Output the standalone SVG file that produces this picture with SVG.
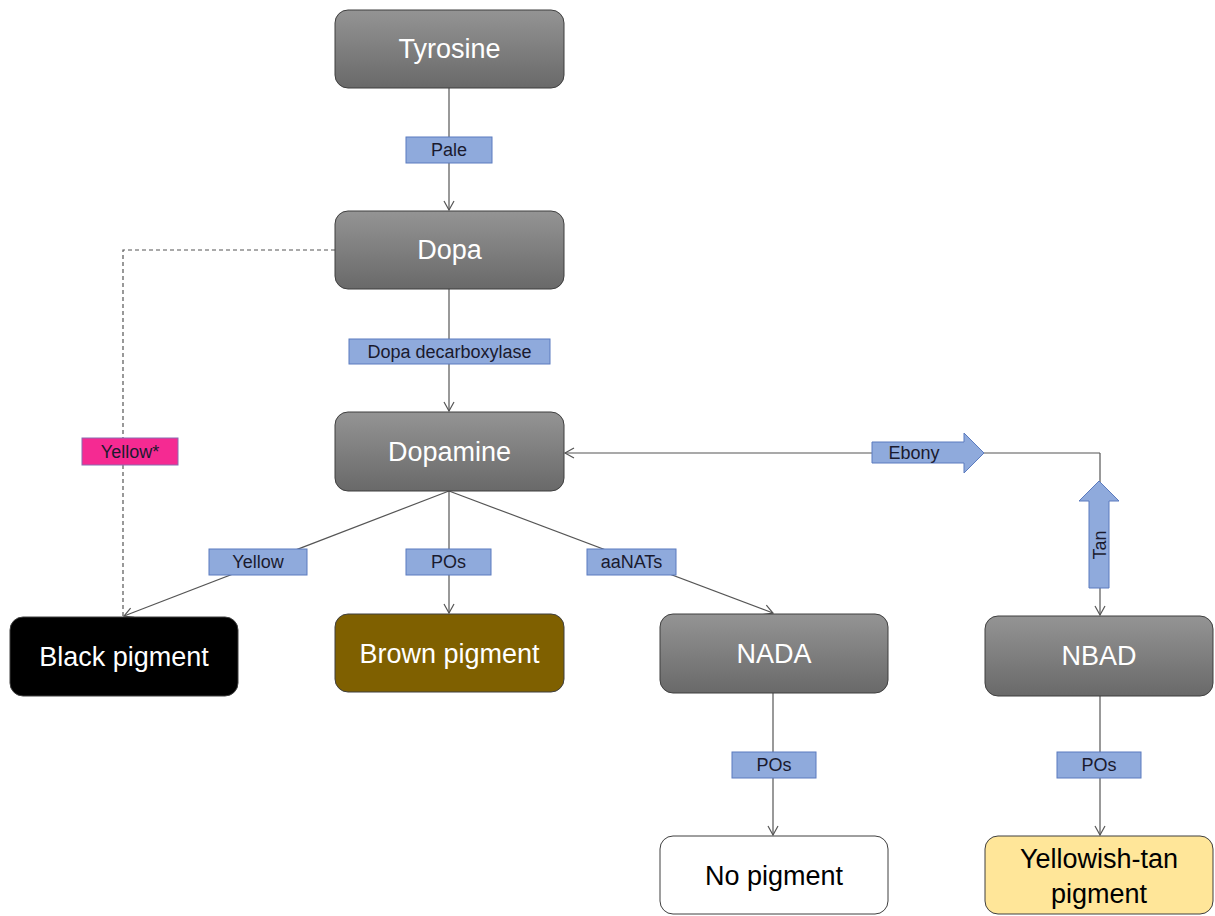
<svg xmlns="http://www.w3.org/2000/svg" width="1215" height="916" viewBox="0 0 1215 916">
<style>
.node{stroke:#3f3f3f;stroke-width:1}
.gray{fill:url(#g)}
.nt{font-family:"Liberation Sans",Arial,sans-serif;font-size:27px;text-anchor:middle;dominant-baseline:central}
.lbl{fill:#8faadc;stroke:#5b7bbf;stroke-width:1}
.lt{font-family:"Liberation Sans",Arial,sans-serif;font-size:18px;fill:#1a1a2e;text-anchor:middle;dominant-baseline:central}
.ln{stroke:#555;stroke-width:1.2;fill:none}
</style>
<defs>
<linearGradient id="g" x1="0" y1="0" x2="0" y2="1">
<stop offset="0" stop-color="#949494"/>
<stop offset="1" stop-color="#696969"/>
</linearGradient>
<marker id="a" markerWidth="12" markerHeight="12" refX="10" refY="6" orient="auto" markerUnits="userSpaceOnUse">
<path d="M1,1 L10,6 L1,11" fill="none" stroke="#555" stroke-width="1.2"/>
</marker>
</defs>
<rect width="1215" height="916" fill="#fff"/>
<g id="connectors">
<line class="ln" x1="449" y1="88" x2="449" y2="210" marker-end="url(#a)"/>
<line class="ln" x1="449" y1="289" x2="449" y2="411" marker-end="url(#a)"/>
<polyline class="ln" points="335,250 123,250 123,616" stroke-dasharray="4,3"/>
<line class="ln" x1="449" y1="491" x2="124" y2="616" marker-end="url(#a)"/>
<line class="ln" x1="449" y1="491" x2="449" y2="613" marker-end="url(#a)"/>
<line class="ln" x1="449" y1="491" x2="773" y2="613" marker-end="url(#a)"/>
<line class="ln" x1="773" y1="693" x2="773" y2="835" marker-end="url(#a)"/>
<line class="ln" x1="1100" y1="696" x2="1100" y2="835" marker-end="url(#a)"/>
<polyline class="ln" points="1100,453 565,453" marker-end="url(#a)"/>
<line class="ln" x1="1100" y1="453" x2="1100" y2="615" marker-end="url(#a)"/>
</g>
<g id="tyrosine"><rect class="node gray" x="335" y="10" width="229" height="78" rx="13"/><text class="nt" x="449.5" y="49" fill="#fff">Tyrosine</text></g>
<g id="dopa"><rect class="node gray" x="335" y="211" width="229" height="78" rx="13"/><text class="nt" x="449.5" y="250" fill="#fff">Dopa</text></g>
<g id="dopamine"><rect class="node gray" x="335" y="412" width="229" height="79" rx="13"/><text class="nt" x="449.5" y="452" fill="#fff">Dopamine</text></g>
<g id="black"><rect class="node" x="10" y="617" width="228" height="79" rx="13" fill="#000"/><text class="nt" x="124" y="657" fill="#fff">Black pigment</text></g>
<g id="brown"><rect class="node" x="335" y="614" width="229" height="78" rx="13" fill="#7f6000"/><text class="nt" x="449.5" y="654" fill="#fff">Brown pigment</text></g>
<g id="nada"><rect class="node gray" x="660" y="614" width="228" height="79" rx="13"/><text class="nt" x="774" y="654" fill="#fff">NADA</text></g>
<g id="nbad"><rect class="node gray" x="985" y="616" width="228" height="80" rx="13"/><text class="nt" x="1099" y="656" fill="#fff">NBAD</text></g>
<g id="nopigment"><rect class="node" x="660" y="836" width="228" height="78" rx="13" fill="#fff"/><text class="nt" x="774" y="876" fill="#000">No pigment</text></g>
<g id="yellowtan"><rect class="node" x="985" y="836" width="228" height="78" rx="13" fill="#ffe699"/><text class="nt" x="1099" y="859" fill="#000">Yellowish-tan</text><text class="nt" x="1099" y="894" fill="#000">pigment</text></g>
<g id="lbl-pale"><rect class="lbl" x="406" y="137" width="86" height="26"/><text class="lt" x="449" y="150">Pale</text></g>
<g id="lbl-ddc"><rect class="lbl" x="349" y="339" width="201" height="25"/><text class="lt" x="449.5" y="352">Dopa decarboxylase</text></g>
<g id="lbl-yellowstar"><rect x="82" y="438" width="96" height="27" fill="#f52a92" stroke="#8a6bb0" stroke-width="1"/><text class="lt" x="130" y="452">Yellow*</text></g>
<g id="lbl-yellow"><rect class="lbl" x="209" y="549" width="98" height="26"/><text class="lt" x="258" y="562">Yellow</text></g>
<g id="lbl-pos1"><rect class="lbl" x="406" y="549" width="85" height="26"/><text class="lt" x="448.5" y="562">POs</text></g>
<g id="lbl-aanats"><rect class="lbl" x="587" y="549" width="89" height="26"/><text class="lt" x="631.5" y="562">aaNATs</text></g>
<g id="lbl-pos2"><rect class="lbl" x="732" y="752" width="84" height="26"/><text class="lt" x="774" y="765">POs</text></g>
<g id="lbl-pos3"><rect class="lbl" x="1057" y="752" width="84" height="26"/><text class="lt" x="1099" y="765">POs</text></g>
<g id="lbl-ebony"><path class="lbl" d="M872,442 L964,442 L964,433 L984,453 L964,473 L964,463 L872,463 Z"/><text class="lt" x="914" y="453">Ebony</text></g>
<g id="lbl-tan"><path class="lbl" d="M1089,588 L1089,501 L1079,501 L1099,481 L1119,501 L1109,501 L1109,588 Z"/><text class="lt" transform="translate(1100,545) rotate(-90)" x="0" y="0">Tan</text></g>
</svg>
